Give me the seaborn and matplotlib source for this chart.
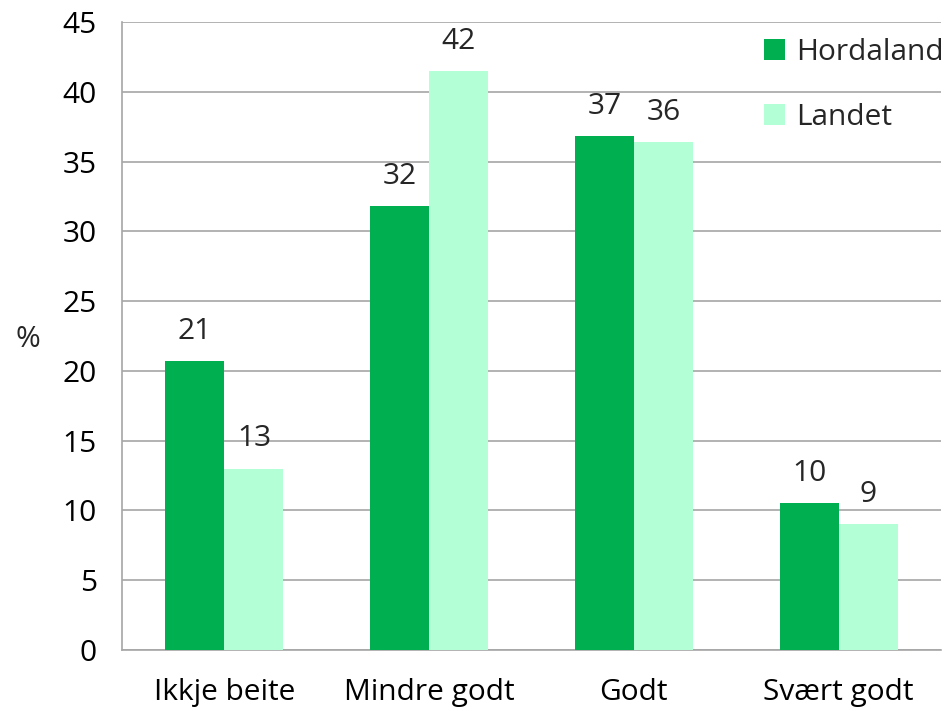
import matplotlib
matplotlib.use("Agg")
import matplotlib.pyplot as plt
import seaborn as sns
import pandas as pd
import numpy as np

categories = ["Ikkje beite", "Mindre godt", "Godt", "Svært godt"]
hordaland = [20.7, 31.8, 36.8, 10.5]
landet = [13.0, 41.5, 36.4, 9.0]
labels_h = ["21", "32", "37", "10"]
labels_l = ["13", "42", "36", "9"]
series = ["Hordaland", "Landet"]
colors = ["#00b050", "#b3ffd6"]

df = pd.DataFrame({
    "cat": categories * 2,
    "val": hordaland + landet,
    "series": [series[0]] * 4 + [series[1]] * 4,
})

sns.set_theme(style="white")
plt.rcParams['font.family'] = ['Open Sans', 'DejaVu Sans']

FS = 21.5

fig = plt.figure(figsize=(9.52, 7.11), dpi=100)
ax = fig.add_axes([0.1282, 0.0858, 0.8602, 0.8832])

sns.barplot(data=df, x="cat", y="val", hue="series", order=categories,
            hue_order=series, palette=colors, width=0.576, dodge=True,
            saturation=1, errorbar=None, ax=ax, linewidth=0, zorder=3)

ax.set_ylim(0, 45)
ax.set_xlim(-0.5, 3.5)
ax.set_yticks(np.arange(0, 46, 5))
ax.yaxis.grid(True, color="#a6a6a6", linewidth=1.2, zorder=0)
ax.set_axisbelow(True)

for sp in ["top", "right"]:
    ax.spines[sp].set_visible(False)
for sp in ["left", "bottom"]:
    ax.spines[sp].set_color("#a6a6a6")
    ax.spines[sp].set_linewidth(1.2)

ax.set_xticks([0, 1, 2, 3])
ax.set_xticklabels(categories, fontsize=FS)
ax.tick_params(axis="x", which="major", length=0, pad=20, colors="black")
ax.set_xticks([-0.5, 0.5, 1.5, 2.5, 3.5], minor=True)
ax.tick_params(axis="x", which="minor", length=10, width=1.2, color="#a6a6a6", direction="out")
ax.tick_params(axis="y", length=10, width=1.2, color="#a6a6a6", direction="out",
               labelsize=FS, pad=8, labelcolor="black")
ax.tick_params(axis="x", labelcolor="black")
ax.set_xlabel("")
ax.set_ylabel("%", fontsize=FS, rotation=0, va="center")
ax.yaxis.set_label_coords(-0.115, 0.495)

for cont, labs in zip(ax.containers, [labels_h, labels_l]):
    ax.bar_label(cont, labels=labs, padding=11, fontsize=FS)

handles, lbls = ax.get_legend_handles_labels()
ax.legend(handles, lbls, loc="upper left", bbox_to_anchor=(0.758, 1.008), frameon=False,
          fontsize=FS, handlelength=0.7, handleheight=0.7, labelspacing=1.2,
          handletextpad=0.4, borderaxespad=0.3)

fig.savefig("out.png", dpi=100)
